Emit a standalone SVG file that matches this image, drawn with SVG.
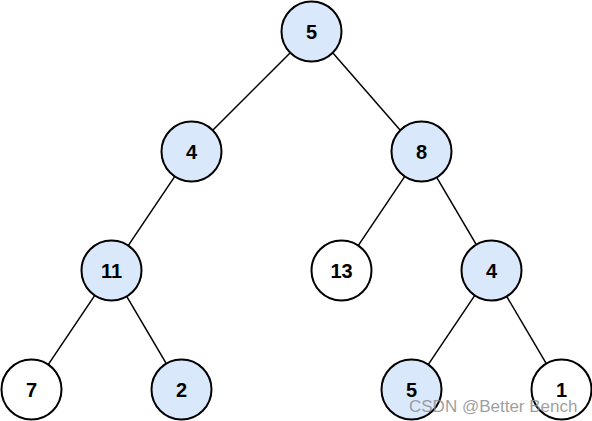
<svg xmlns="http://www.w3.org/2000/svg" width="592" height="421" viewBox="0 0 592 421">
<style>
.n circle{stroke:#000;stroke-width:2}
.b circle{fill:#dae8fc}
.w circle{fill:#fff}
.n text{font-family:"Liberation Sans",Arial,sans-serif;font-weight:bold;font-size:20px;text-anchor:middle;fill:#000}
.e line{stroke:#000;stroke-width:1.5}
.wm{font-family:"Liberation Sans",Arial,sans-serif;font-size:17px;fill:#8c8c8c;fill-opacity:0.85}
</style>
<rect width="592" height="421" fill="#fff"/>
<g class="e" id="edges">
<line x1="290.3" y1="52.7" x2="212.7" y2="130.3"/>
<line x1="332.7" y1="52.7" x2="400.3" y2="130.3"/>
<line x1="174.8" y1="176.4" x2="128.2" y2="245.6"/>
<line x1="404.8" y1="176.4" x2="358.2" y2="245.6"/>
<line x1="436.7" y1="177.4" x2="476.3" y2="244.6"/>
<line x1="94.8" y1="295.4" x2="48.2" y2="364.6"/>
<line x1="126.7" y1="296.4" x2="166.3" y2="363.6"/>
<line x1="474.8" y1="295.4" x2="428.2" y2="364.6"/>
<line x1="506.7" y1="296.4" x2="546.3" y2="363.6"/>
</g>
<g id="n5" class="n b"><circle cx="311.5" cy="31.5" r="30"/><text x="311.5" y="38.5">5</text></g>
<g id="n4a" class="n b"><circle cx="191.5" cy="151.5" r="30"/><text x="191.5" y="158.5">4</text></g>
<g id="n8" class="n b"><circle cx="421.5" cy="151.5" r="30"/><text x="421.5" y="158.5">8</text></g>
<g id="n11" class="n b"><circle cx="111.5" cy="270.5" r="30"/><text x="111.5" y="277.5">11</text></g>
<g id="n13" class="n w"><circle cx="341.5" cy="270.5" r="30"/><text x="341.5" y="277.5">13</text></g>
<g id="n4b" class="n b"><circle cx="491.5" cy="270.5" r="30"/><text x="491.5" y="277.5">4</text></g>
<g id="n7" class="n w"><circle cx="31.5" cy="389.5" r="30"/><text x="31.5" y="396.5">7</text></g>
<g id="n2" class="n b"><circle cx="181.5" cy="389.5" r="30"/><text x="181.5" y="396.5">2</text></g>
<g id="n5b" class="n b"><circle cx="411.5" cy="389.5" r="30"/><text x="411.5" y="396.5">5</text></g>
<g id="n1" class="n w"><circle cx="561.5" cy="389.5" r="30"/><text x="561.5" y="396.5">1</text></g>
<text class="wm" x="409" y="412">CSDN @Better Bench</text>
</svg>
